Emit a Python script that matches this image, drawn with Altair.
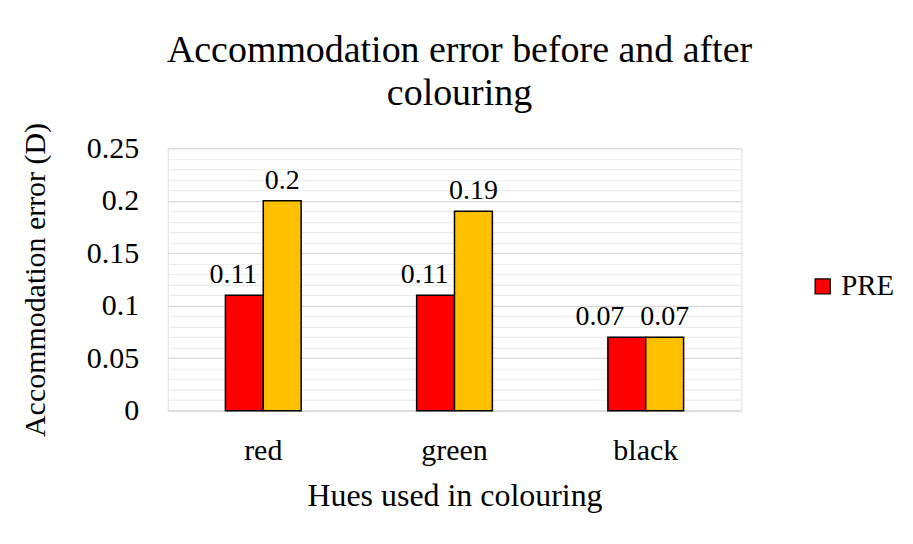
import altair as alt
import pandas as pd

hues = ["red", "green", "black"]
pre = [0.11, 0.11, 0.07]
post = [0.20, 0.19, 0.07]
series = ["PRE", "POST"]
colors = ["#FF0000", "#FFC000"]
grid_values = [0.0, 0.01, 0.02, 0.03, 0.04, 0.05, 0.06, 0.07, 0.08, 0.09, 0.10,
               0.11, 0.12, 0.13, 0.14, 0.15, 0.16, 0.17, 0.18, 0.19, 0.20,
               0.21, 0.22, 0.23, 0.24, 0.25]

rows = []
for h, a, b in zip(hues, pre, post):
    rows.append({"hue": h, "phase": "PRE", "value": a, "other": b})
    rows.append({"hue": h, "phase": "POST", "value": b, "other": a})
df = pd.DataFrame(rows)

FONT = "Liberation Serif"

x = alt.X("hue:N", sort=hues, title="Hues used in colouring",
          scale=alt.Scale(paddingInner=0.604, paddingOuter=0.302),
          axis=alt.Axis(labelAngle=0, labelFont=FONT, labelFontSize=30, labelColor="black",
                        labelPadding=25, titleFont=FONT, titleFontSize=32,
                        titleFontWeight="normal", titleColor="black", titlePadding=15,
                        domainColor="#d9d9d9", domainWidth=1.5, ticks=False))
xo = alt.XOffset("phase:N", sort=series, scale=alt.Scale(paddingInner=0, paddingOuter=0))
y = alt.Y("value:Q", title="Accommodation error (D)",
          scale=alt.Scale(domain=[0, 0.25], nice=False),
          axis=alt.Axis(values=grid_values, labelOverlap=False,
                        labelExpr="round(datum.value*100) % 5 == 0 ? format(datum.value, '~g') : ''",
                        labelFont=FONT, labelFontSize=30, labelColor="black", labelPadding=29,
                        titleFont=FONT, titleFontSize=30, titleFontWeight="normal",
                        titleColor="black", titlePadding=36,
                        domain=False, ticks=False,
                        gridColor={"condition": {"test": "round(datum.value*100) % 5 == 0",
                                                 "value": "#d9d9d9"},
                                   "value": "#ededed"},
                        gridWidth=1.2))

color = alt.Color("phase:N", sort=series,
                  scale=alt.Scale(domain=series, range=colors),
                  legend=alt.Legend(values=["PRE"], title=None, orient="none",
                                    legendX=642, legendY=124, symbolType="square",
                                    symbolSize=230, symbolStrokeColor="black",
                                    symbolStrokeWidth=1.2, symbolOpacity=1,
                                    labelFont=FONT, labelFontSize=29, labelColor="black",
                                    labelOffset=4))

bars = alt.Chart(df).mark_bar(stroke="black", strokeWidth=1.5).encode(
    x=x, xOffset=xo, y=y, color=color)

labels_pre = alt.Chart(df).transform_filter("datum.phase == 'PRE'").mark_text(
    dy=-20, dx=alt.ExprRef("abs(datum.value - datum.other) < 0.03 ? -27 : -11"),
    font=FONT, fontSize=28, color="black").encode(
    x=x, xOffset=xo, y=y, text=alt.Text("value:Q", format="~g"))
labels_post = alt.Chart(df).transform_filter("datum.phase == 'POST'").mark_text(
    dy=-20, font=FONT, fontSize=28, color="black").encode(
    x=x, xOffset=xo, y=y, text=alt.Text("value:Q", format="~g"))

chart = alt.layer(bars, labels_pre, labels_post).properties(
    width=575, height=263,
    title=alt.TitleParams(["Accommodation error before and after", "colouring"],
                          font=FONT, fontSize=38, fontWeight="normal", color="black",
                          anchor="middle", offset=9, lineHeight=44, dx=5),
    padding={"left": 12, "top": 23, "right": 10, "bottom": 10},
).configure_view(stroke=None).configure(background="white")

chart.save("out.html", embed_options={"renderer": "svg", "actions": False})
